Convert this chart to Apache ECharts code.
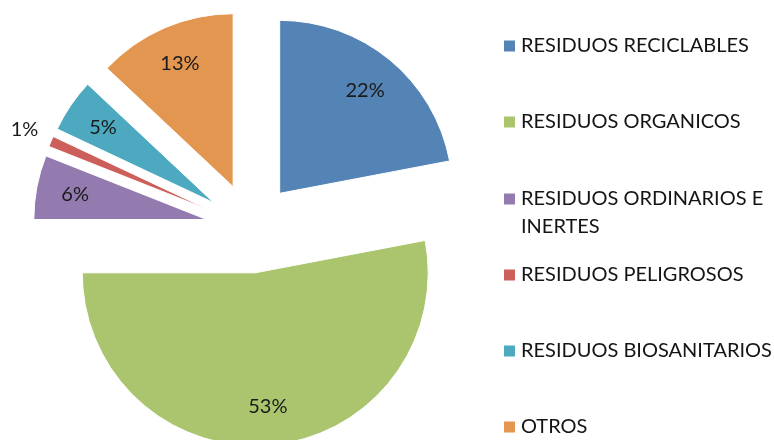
<!DOCTYPE html>
<html>
<head>
<meta charset="utf-8">
<script src="https://cdn.jsdelivr.net/npm/echarts@6/dist/echarts.min.js"></script>
<style>
html,body{margin:0;padding:0;background:#fff;}
#chart{width:774px;height:440px;}
</style>
</head>
<body>
<div id="chart"></div>
<script>
var categories = ['RESIDUOS RECICLABLES', 'RESIDUOS ORGANICOS', 'RESIDUOS ORDINARIOS E\nINERTES', 'RESIDUOS PELIGROSOS', 'RESIDUOS BIOSANITARIOS', 'OTROS'];
var values = [22, 53, 6, 1, 5, 13];
var colors = ['#5483B5', '#AAC56E', '#937BB0', '#CD5F5A', '#4CA9BF', '#E3964F'];

var FONT = 'Lato';
var center = [251, 228];
var R = 173;
var OFFSET = 45;

var mainData = categories.map(function (c, i) {
  return { name: c, value: values[i], selected: true, itemStyle: { color: colors[i] } };
});
var labelData = categories.map(function (c, i) {
  var d = { name: c, value: values[i], selected: true };
  if (values[i] < 3) {
    d.label = { position: 'outside' };
    d.labelLine = { show: false, length: 30, length2: -20 };
  }
  return d;
});

function legendItems(idx) {
  return idx.map(function (i) {
    return { name: categories[i], icon: 'rect', itemStyle: { color: colors[i] } };
  });
}
var legendBase = {
  orient: 'vertical', left: 502, padding: 0, itemWidth: 13, itemHeight: 13, itemGap: 48,
  height: 200,
  selectedMode: false,
  textStyle: { fontFamily: FONT, fontSize: 20, color: '#141414', lineHeight: 28 }
};

var chart = echarts.init(document.getElementById('chart'));
chart.setOption({
  animation: false,
  backgroundColor: '#ffffff',
  legend: [
    Object.assign({}, legendBase, { top: 32, data: legendItems([0, 1]) }),
    Object.assign({}, legendBase, { top: 157, data: legendItems([2]),
      formatter: function (name) { return '\n' + name; } }),
    Object.assign({}, legendBase, { top: 261, data: legendItems([3, 4, 5]) })
  ],
  series: [
    {
      type: 'pie',
      center: center,
      radius: [0, R],
      startAngle: 90,
      clockwise: true,
      selectedMode: 'multiple',
      selectedOffset: OFFSET,
      avoidLabelOverlap: false,
      label: { show: false },
      labelLine: { show: false },
      itemStyle: { borderColor: '#ffffff', borderWidth: 1 },
      emphasis: { disabled: true },
      data: mainData
    },
    {
      type: 'pie',
      center: center,
      radius: [89, R],
      startAngle: 90,
      clockwise: true,
      selectedMode: 'multiple',
      selectedOffset: OFFSET,
      avoidLabelOverlap: false,
      silent: true,
      itemStyle: { color: 'rgba(0,0,0,0)' },
      emphasis: { disabled: true },
      label: {
        show: true, position: 'inside',
        formatter: '{c}%',
        fontFamily: FONT, fontSize: 20, color: '#1a1a1a'
      },
      labelLine: { show: false },
      data: labelData
    }
  ]
});
</script>
</body>
</html>
